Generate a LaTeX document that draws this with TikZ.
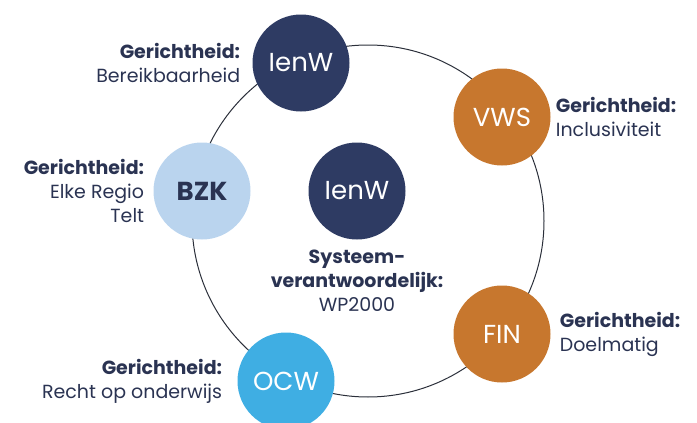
\documentclass[tikz,border=0pt]{standalone}
\usepackage{fontspec}
\setmainfont{Poppins}
\usetikzlibrary{positioning}
\definecolor{ienwblue}{HTML}{2E3B63}
\definecolor{ministryorange}{HTML}{C7772E}
\definecolor{bzkblue}{HTML}{BAD4EE}
\definecolor{ocwblue}{HTML}{3FAEE3}
\definecolor{labeltext}{HTML}{2A3352}
\definecolor{ringline}{HTML}{2B2F3A}
\tikzset{
  ministry/.style={circle, minimum size=97pt, inner sep=0pt, text=white, font=\fontsize{26}{28}\selectfont},
  focus/.style={text=labeltext, font=\fontsize{19}{24}\selectfont, inner sep=0pt},
}
\begin{document}
\begin{tikzpicture}[x=1pt,y=-1pt]
\useasboundingbox (0,0) rectangle (697,423);
% ring behind the ministries
\draw[line width=1pt, ringline] (368,221) circle (176pt);
\node[ministry, fill=ienwblue] (ienw) at (301,63) {IenW};
\node[ministry, fill=ministryorange] (vws) at (502,117) {VWS};
\node[ministry, fill=bzkblue, text=labeltext, font=\fontsize{26}{28}\selectfont\bfseries] (bzk) at (202,191) {BZK};
\node[ministry, fill=ministryorange] (fin) at (502,334) {FIN};
\node[ministry, fill=ocwblue] (ocw) at (286,381) {OCW};
\node[ministry, fill=ienwblue] (centre) at (357,191) {IenW};
% labels
\node[focus, left=12pt of ienw, align=right] (ienwfocus) {\textbf{Gerichtheid:}\\Bereikbaarheid};
\node[focus, right=5pt of vws, align=left] (vwsfocus) {\textbf{Gerichtheid:}\\Inclusiviteit};
\node[focus, left=9pt of bzk, align=right] (bzkfocus) {\textbf{Gerichtheid:}\\Elke Regio\\Telt};
\node[focus, right=9pt of fin, align=left] (finfocus) {\textbf{Gerichtheid:}\\Doelmatig};
\node[focus, left=15pt of ocw, align=right] (ocwfocus) {\textbf{Gerichtheid:}\\Recht op onderwijs};
\node[focus, below=10pt of centre, align=center] (centrefocus) {\textbf{Systeem-}\\\textbf{verantwoordelijk:}\\WP2000};
\end{tikzpicture}
\end{document}
